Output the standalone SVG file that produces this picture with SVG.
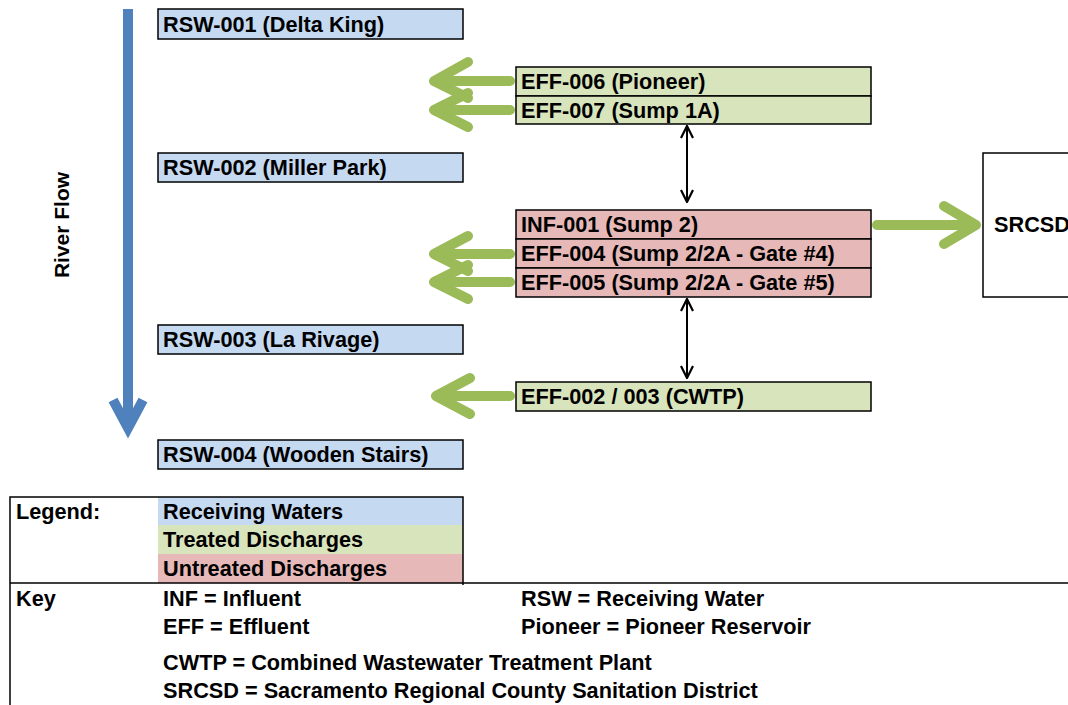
<svg xmlns="http://www.w3.org/2000/svg" width="1068" height="705" viewBox="0 0 1068 705">
  <style>
    text { font-family: "Liberation Sans", Arial, sans-serif; font-weight: bold; font-size: 21.7px; fill: #000; }
    .rsw { fill: #c5d9f1; stroke: #000; stroke-width: 1.5; }
    .trt { fill: #d8e4bc; stroke: #000; stroke-width: 1.5; }
    .unt { fill: #e6b8b7; stroke: #000; stroke-width: 1.5; }
    .green { fill: none; stroke: #9bbb59; stroke-width: 10; stroke-linecap: round; stroke-linejoin: round; }
    .river { fill: none; stroke: #4f81bd; stroke-width: 10; stroke-linecap: butt; stroke-linejoin: miter; }
    .link { fill: none; stroke: #000; stroke-width: 2; }
    .rule { fill: none; stroke: #000; stroke-width: 1.5; }
  </style>
  <defs>
    <marker id="open" viewBox="0 0 14 14" refX="13" refY="7" markerWidth="14" markerHeight="14" markerUnits="userSpaceOnUse" orient="auto-start-reverse">
      <path d="M1,1 L13,7 L1,13" fill="none" stroke="#000" stroke-width="2.2"/>
    </marker>
  </defs>

  <rect width="1068" height="705" fill="#fff"/>

  <!-- River flow direction -->
  <g id="river">
    <path class="river" d="M128,9 V428"/>
    <path class="river" d="M113,400 L128,428 L143,400" stroke-linecap="round"/>
    <text transform="translate(69,225) rotate(-90)" text-anchor="middle" style="font-size:21px">River Flow</text>
  </g>

  <!-- Receiving water stations -->
  <g id="rsw-001"><rect class="rsw" x="158" y="9" width="305" height="30"/><text x="163" y="32">RSW-001 (Delta King)</text></g>
  <g id="rsw-002"><rect class="rsw" x="158" y="153" width="305" height="29"/><text x="163" y="175">RSW-002 (Miller Park)</text></g>
  <g id="rsw-003"><rect class="rsw" x="158" y="325" width="305" height="29"/><text x="163" y="347">RSW-003 (La Rivage)</text></g>
  <g id="rsw-004"><rect class="rsw" x="158" y="440" width="305" height="29"/><text x="163" y="462">RSW-004 (Wooden Stairs)</text></g>

  <!-- Treated discharges -->
  <g id="eff-006"><rect class="trt" x="516" y="67" width="355" height="29"/><text x="521" y="89">EFF-006 (Pioneer)</text></g>
  <g id="eff-007"><rect class="trt" x="516" y="96" width="355" height="28"/><text x="521" y="118">EFF-007 (Sump 1A)</text></g>
  <g id="eff-002-003"><rect class="trt" x="516" y="382" width="355" height="29"/><text x="521" y="404">EFF-002 / 003 (CWTP)</text></g>

  <!-- Untreated discharges -->
  <g id="inf-001"><rect class="unt" x="516" y="210" width="355" height="29"/><text x="521" y="232">INF-001 (Sump 2)</text></g>
  <g id="eff-004"><rect class="unt" x="516" y="239" width="355" height="29"/><text x="521" y="261">EFF-004 (Sump 2/2A - Gate #4)</text></g>
  <g id="eff-005"><rect class="unt" x="516" y="268" width="355" height="29"/><text x="521" y="290">EFF-005 (Sump 2/2A - Gate #5)</text></g>

  <!-- Regional sanitation district -->
  <g id="srcsd">
    <path class="rule" d="M1070,153 H983 V297 H1070"/>
    <text x="994" y="232">SRCSD</text>
  </g>

  <!-- Flow connectors -->
  <g id="connectors">
    <path class="green" d="M510,81 H437 M468,62 L434,81 L468,98"/>
    <path class="green" d="M510,110 H437 M468,93 L434,110 L468,127"/>
    <path class="green" d="M510,254 H437 M468,236 L434,254 L468,271"/>
    <path class="green" d="M510,282 H437 M468,265 L434,282 L468,299"/>
    <path class="green" d="M510,396 H440 M470,378 L436,396 L470,414"/>
    <path class="green" d="M877,225 H972 M944,206 L976,225 L944,244"/>
    <path class="link" d="M687,126 V202" marker-start="url(#open)" marker-end="url(#open)"/>
    <path class="link" d="M687,299 V378" marker-start="url(#open)" marker-end="url(#open)"/>
  </g>

  <!-- Legend -->
  <g id="legend">
    <rect x="158" y="497" width="305" height="28" fill="#c5d9f1"/>
    <rect x="158" y="525" width="305" height="29" fill="#d8e4bc"/>
    <rect x="158" y="554" width="305" height="29" fill="#e6b8b7"/>
    <path class="rule" d="M10,705 V497 H463 V585 M10,583 H1068"/>
    <text x="16" y="519">Legend:</text>
    <text x="163" y="519">Receiving Waters</text>
    <text x="163" y="547">Treated Discharges</text>
    <text x="163" y="576">Untreated Discharges</text>
  </g>

  <!-- Key -->
  <g id="key">
    <text x="16" y="606">Key</text>
    <text x="163" y="606">INF = Influent</text>
    <text x="163" y="634">EFF = Effluent</text>
    <text x="163" y="670">CWTP = Combined Wastewater Treatment Plant</text>
    <text x="163" y="698">SRCSD = Sacramento Regional County Sanitation District</text>
    <text x="521" y="606">RSW = Receiving Water</text>
    <text x="521" y="634">Pioneer = Pioneer Reservoir</text>
  </g>
</svg>
